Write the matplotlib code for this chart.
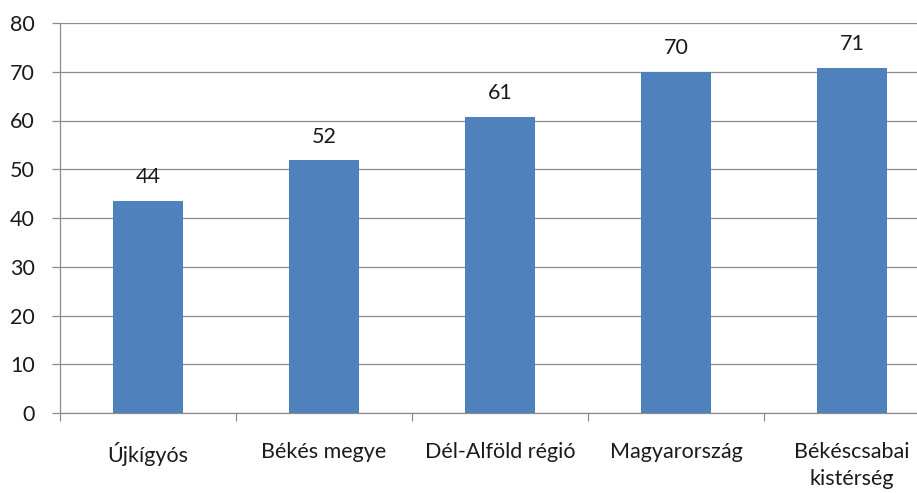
import numpy as np
import matplotlib.pyplot as plt
from matplotlib.ticker import FixedLocator

categories = ['Újkígyós', 'Békés megye', 'Dél-Alföld régió', 'Magyarország', 'Békéscsabai\nkistérség']
values = [43.5, 51.8, 60.8, 70.0, 70.8]
labels = ['44', '52', '61', '70', '71']

plt.rcParams['font.family'] = ['Lato', 'DejaVu Sans']

fig = plt.figure(figsize=(9.17, 4.93), dpi=100)
ax = fig.add_axes([60 / 917, 80 / 493, 880 / 917, 390 / 493])

x = np.arange(len(categories))
bars = ax.bar(x, values, width=0.4, color='#4F81BD', zorder=3)

for b, lab in zip(bars, labels):
    ax.annotate(lab, (b.get_x() + b.get_width() / 2, b.get_height()),
                xytext=(0, 10), textcoords='offset points',
                ha='center', va='bottom', fontsize=15.5, color='#1a1a1a')

ax.set_xlim(-0.5, len(categories) - 0.5)
ax.set_ylim(0, 80)
ax.set_yticks(range(0, 81, 10))
ax.grid(axis='y', color='#8c8c8c', linewidth=0.9, zorder=0)

ax.set_xticks(x)
ax.set_xticklabels(categories, fontsize=15.5, color='#1a1a1a', linespacing=1.45)
ax.xaxis.set_minor_locator(FixedLocator(np.arange(-0.5, len(categories), 1.0)))
ax.tick_params(axis='x', which='major', length=0, pad=21)
ax.tick_params(axis='x', which='minor', length=6, color='#8c8c8c', width=0.9)
ax.tick_params(axis='y', length=6, color='#8c8c8c', width=0.9, pad=12,
               labelsize=15.5, labelcolor='#1a1a1a')

for s in ['top', 'right']:
    ax.spines[s].set_visible(False)
for s in ['left', 'bottom']:
    ax.spines[s].set_color('#8c8c8c')
    ax.spines[s].set_linewidth(0.9)

fig.savefig('out.png', dpi=100)
